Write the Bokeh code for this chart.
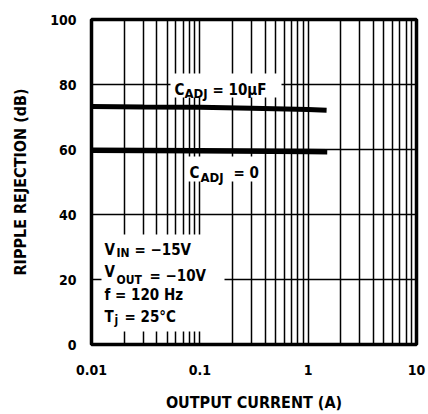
from bokeh.plotting import figure
from bokeh.models import Range1d, FixedTicker, Label, BoxAnnotation
from bokeh.embed import file_html
from bokeh.resources import INLINE

# ---- data ----
current_10uf = [0.01, 0.03, 0.1, 0.3, 1.0, 1.48]
rejection_10uf = [73.2, 73.1, 73.0, 72.7, 72.3, 72.1]
current_0 = [0.01, 0.1, 1.0, 1.5]
rejection_0 = [59.8, 59.6, 59.4, 59.3]

x_ticks = [0.01, 0.1, 1, 10]
x_tick_labels = ["0.01", "0.1", "1", "10"]
x_minor = [m * d for d in [0.01, 0.1, 1] for m in range(2, 10)]
y_ticks = [0, 20, 40, 60, 80, 100]

FONT = "DejaVu Sans Condensed"

# page-pixel -> data helpers for annotation placement
X0, X1, Y0, Y1 = 91.0, 416.0, 344.0, 19.0
def dx(px):
    return 10 ** (-2 + 3 * (px - X0) / (X1 - X0))
def dy(py):
    return 100 * (Y0 - py) / (Y0 - Y1)

p = figure(width=428, height=414, x_axis_type="log",
           x_range=Range1d(0.01, 10), y_range=Range1d(0, 100),
           output_backend="svg", toolbar_location=None,
           min_border_left=91, min_border_right=12,
           min_border_top=19, min_border_bottom=70)
p.background_fill_color = "white"
p.border_fill_color = "white"
p.outline_line_color = "black"
p.outline_line_width = 3.5

xt = FixedTicker(ticks=x_ticks, minor_ticks=x_minor)
yt = FixedTicker(ticks=y_ticks)
p.xaxis.ticker = xt
p.yaxis.ticker = yt
p.xgrid.ticker = xt
p.ygrid.ticker = yt
p.xaxis.major_label_overrides = {t: l for t, l in zip(x_ticks, x_tick_labels)}

for ax in (p.xaxis, p.yaxis):
    ax.axis_line_color = None
    ax.major_tick_line_color = None
    ax.minor_tick_line_color = None
    ax.major_tick_out = 0
    ax.minor_tick_out = 0
    ax.major_tick_in = 0
    ax.minor_tick_in = 0
    ax.major_label_text_font = FONT
    ax.major_label_text_font_style = "bold"
    ax.major_label_text_font_size = "14px"
    ax.major_label_text_color = "black"
    ax.axis_label_text_font = FONT
    ax.axis_label_text_font_style = "bold"
    ax.axis_label_text_font_size = "16px"
    ax.axis_label_text_color = "black"
p.xaxis.major_label_standoff = 20
p.yaxis.major_label_standoff = 15

p.yaxis.axis_label = "RIPPLE REJECTION (dB)"
p.yaxis.axis_label_standoff = 17
p.xaxis.axis_label = "OUTPUT CURRENT (A)"
p.xaxis.axis_label_standoff = 15

for g in (p.xgrid, p.ygrid):
    g.grid_line_color = "black"
    g.grid_line_width = 1.5
    g.grid_line_alpha = 1
p.xgrid.minor_grid_line_color = "black"
p.xgrid.minor_grid_line_width = 1.5

# white knock-out boxes behind the annotations
boxes = [(101, 224, 234, 331), (170, 281, 73, 97), (185, 262, 156, 181)]
for l, r, t, b in boxes:
    p.add_layout(BoxAnnotation(left=dx(l), right=dx(r), top=dy(t), bottom=dy(b),
                               fill_color="white", fill_alpha=1.0, line_color=None))

p.line(current_10uf, rejection_10uf, line_color="black", line_width=5)
p.line(current_0, rejection_0, line_color="black", line_width=5.5)

def add_text(px, py, s, size=13, align="left"):
    p.add_layout(Label(x=dx(px), y=dy(py), text=s, text_font=FONT,
                       text_font_style="bold", text_font_size=f"{size}px",
                       text_baseline="alphabetic", text_align=align,
                       text_color="black"))

# C_ADJ = 10uF
add_text(174, 89, "C", 15)
add_text(184, 93, "ADJ", 13)
add_text(212, 89, "= 10µF", 15)
# C_ADJ = 0
add_text(189, 172, "C", 15)
add_text(200, 177, "ADJ", 13)
add_text(233, 172, "= 0", 15)
# conditions
add_text(104, 249, "V", 15)
add_text(116, 252, "IN", 12)
add_text(134, 249, "= −15V", 15)
add_text(104, 271, "V", 15)
add_text(116, 279, "OUT", 12)
add_text(149, 275, "= −10V", 15)
add_text(104, 294, "f = 120 Hz", 15)
add_text(104, 316, "T", 15)
add_text(114, 319, "j", 12)
add_text(124, 316, "= 25°C", 15)

open("out.html", "w").write(file_html(p, INLINE))
